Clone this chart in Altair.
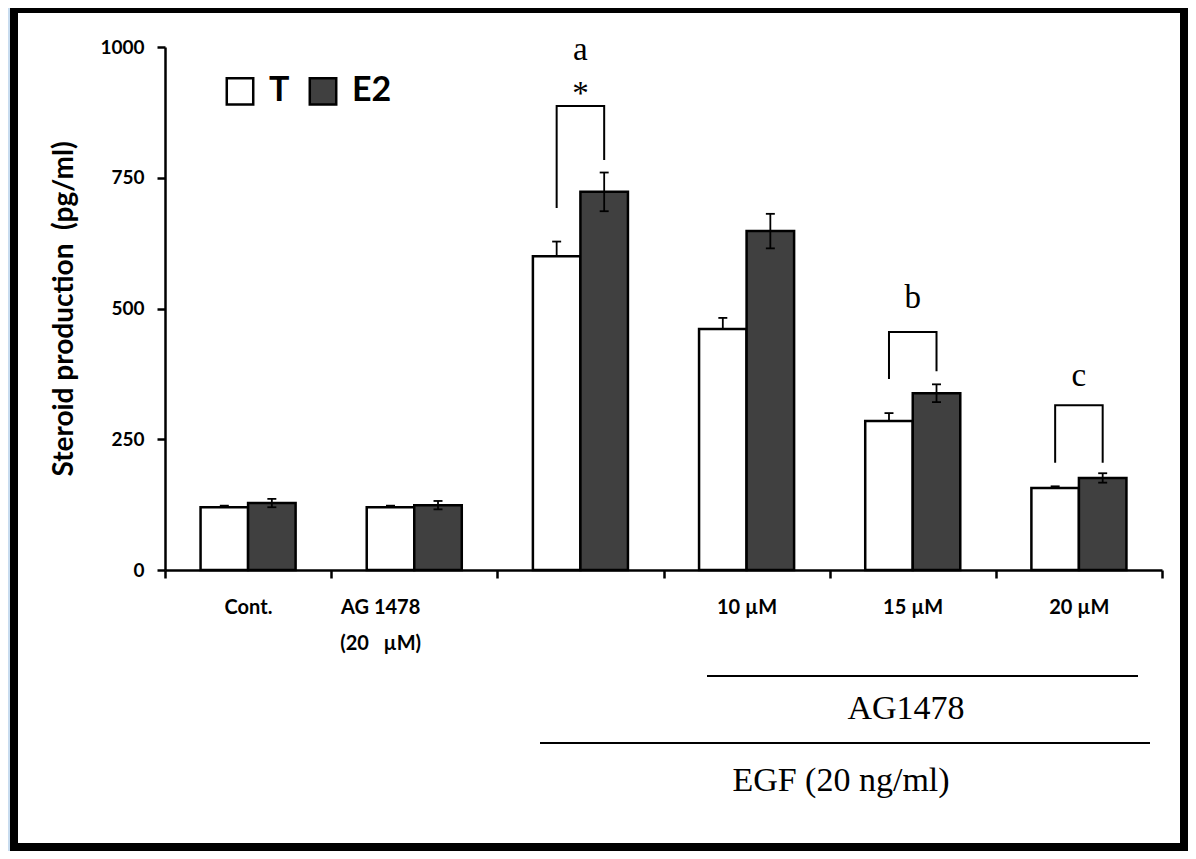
import json
import altair as alt
import pandas as pd

# ---------------- data ----------------
cats = ["Cont.", "AG 1478|(20\u00a0\u00a0\u00a0\u00b5M)", "", "10 \u00b5M", "15 \u00b5M", "20 \u00b5M"]
groups = ["T", "E2"]
t_vals = [120, 120, 600, 461, 285, 157]
t_err = [3, 3, 28, 21, 15, 3]
e2_vals = [128, 124, 723, 648, 338, 176]
e2_err = [8, 8, 37, 33, 17, 9]

bracket_cat_idx = [2, 4, 5]
bracket_left = [692, 365, 205]
bracket_top = [887, 455, 315]
bracket_right = [784, 380, 205]

sig_cat_idx = [2, 2, 4, 5]
sig_text = ["a", "*", "b", "c"]
sig_y = [975, 891, 501, 352]

y_ticks = [0, 250, 500, 750, 1000]

# ---------------- tables ----------------
rows = []
for i, (tv, te, ev, ee) in enumerate(zip(t_vals, t_err, e2_vals, e2_err)):
    rows.append({"i": i, "grp": "T", "value": tv, "lo": tv, "hi": tv + te, "capl": 0})
    rows.append({"i": i, "grp": "E2", "value": ev, "lo": ev - ee, "hi": ev + ee, "capl": 1})
bars_df = pd.DataFrame(rows)

br_rows = []
for b, (i, l, t, r) in enumerate(zip(bracket_cat_idx, bracket_left, bracket_top, bracket_right)):
    br_rows += [
        {"b": b, "i": i, "grp": "T", "y": l, "ord": 0},
        {"b": b, "i": i, "grp": "T", "y": t, "ord": 1},
        {"b": b, "i": i, "grp": "E2", "y": t, "ord": 2},
        {"b": b, "i": i, "grp": "E2", "y": r, "ord": 3},
    ]
br_df = pd.DataFrame(br_rows)
sig_df = pd.DataFrame({"i": sig_cat_idx, "txt": sig_text, "y": sig_y})
one = pd.DataFrame({"k": [0]})

W, H = 997, 523
BAR = 0.286          # bar width as fraction of a category slot
CAP = 0.027          # half cap width as fraction of a category slot

pos_calc = {
    "x0": f"datum.i + (datum.grp == 'T' ? {0.5 - BAR} : 0.5)",
}
xscale = alt.Scale(domain=[0, len(cats)], nice=False, zero=False)
yscale = alt.Scale(domain=[0, 1000], nice=False, zero=True)

label_arr = json.dumps(cats, ensure_ascii=False)
xaxis = alt.Axis(
    values=list(range(len(cats) + 1)), tickSize=8, tickWidth=2.5, tickColor="black",
    domainColor="black", domainWidth=2.5, labelAngle=0, labelFont="Lato",
    labelFontSize=20, labelFontWeight="bold", labelColor="black",
    labelPadding=19, labelBaseline="top", labelLineHeight=36, labelAlign="center",
    labelFlush=False, labelOverlap=False, labelBound=False,
    labelExpr=f"datum.value < {len(cats)} ? split({label_arr}[datum.value], '|') : ''",
    labelOffset={"condition": {"test": "datum.value == 1", "value": 49}, "value": 83},
    grid=False, title=None, zindex=2,
)
yaxis = alt.Axis(
    values=y_ticks, format="d", tickSize=8, tickWidth=2.5, tickColor="black",
    domainColor="black", domainWidth=2.5, labelFont="Lato", labelFontSize=19,
    labelFontWeight="bold", labelColor="black", labelPadding=13, grid=False,
    titleFont="Lato", titleFontSize=28, titleFontWeight="bold", titleColor="black",
    titlePadding=21, zindex=2,
)

frame = alt.Chart(one).mark_rect(fill="white", stroke="black", strokeWidth=8).encode(
    x=alt.value(-151), x2=alt.value(1019), y=alt.value(-38), y2=alt.value(800)
)

base = alt.Chart(bars_df).transform_calculate(**pos_calc).transform_calculate(
    x1=f"datum.x0 + {BAR}", xc=f"datum.x0 + {BAR / 2}"
)

bars = base.mark_bar(stroke="black", strokeWidth=2.5, opacity=1).encode(
    x=alt.X("x0:Q", scale=xscale, axis=xaxis),
    x2="x1:Q",
    y=alt.Y("value:Q", scale=yscale, title="Steroid production\u00a0\u00a0(pg/ml)", axis=yaxis),
    y2=alt.datum(0),
    color=alt.Color(
        "grp:N", sort=groups,
        scale=alt.Scale(domain=groups, range=["white", "#404040"]),
        legend=alt.Legend(
            orient="none", legendX=58, legendY=27, direction="horizontal", title=None,
            symbolType="square", symbolSize=700, symbolStrokeColor="black",
            symbolStrokeWidth=2.5, symbolOpacity=1, labelFont="Lato", labelFontSize=34,
            labelFontWeight="bold", labelColor="black", labelOffset=12,
            columnPadding=14, padding=0, labelLimit=200,
        ),
    ),
)

err = base.mark_rule(color="black", strokeWidth=1.8).encode(
    x=alt.X("xc:Q", scale=xscale),
    y=alt.Y("lo:Q", scale=yscale), y2="hi:Q",
)
cap_hi = base.transform_calculate(
    ca=f"datum.xc - {CAP}", cb=f"datum.xc + {CAP}"
).mark_rule(color="black", strokeWidth=1.8).encode(
    x=alt.X("ca:Q", scale=xscale), x2="cb:Q", y=alt.Y("hi:Q", scale=yscale),
)
cap_lo = base.transform_filter("datum.capl == 1").transform_calculate(
    ca=f"datum.xc - {CAP}", cb=f"datum.xc + {CAP}"
).mark_rule(color="black", strokeWidth=1.8).encode(
    x=alt.X("ca:Q", scale=xscale), x2="cb:Q", y=alt.Y("lo:Q", scale=yscale),
)

brackets = alt.Chart(br_df).transform_calculate(**pos_calc).transform_calculate(
    xc=f"datum.x0 + {BAR / 2}"
).mark_line(color="black", strokeWidth=2).encode(
    x=alt.X("xc:Q", scale=xscale),
    y=alt.Y("y:Q", scale=yscale), detail="b:N", order="ord:Q",
)

sig = alt.Chart(sig_df).transform_calculate(xm="datum.i + 0.5").mark_text(
    font="Liberation Serif", fontSize=33, color="black", baseline="alphabetic", align="center"
).encode(
    x=alt.X("xm:Q", scale=xscale), y=alt.Y("y:Q", scale=yscale), text="txt:N",
)

ag_line = alt.Chart(one).mark_rule(color="black", strokeWidth=2).encode(
    x=alt.value(542), x2=alt.value(973), y=alt.value(629)
)
egf_line = alt.Chart(one).mark_rule(color="black", strokeWidth=2).encode(
    x=alt.value(375), x2=alt.value(985), y=alt.value(696)
)
ag_text = alt.Chart(one).mark_text(
    text="AG1478", font="Liberation Serif", fontSize=34, color="black",
    baseline="alphabetic", align="center",
).encode(x=alt.value(741), y=alt.value(672))
egf_text = alt.Chart(one).mark_text(
    text="EGF (20 ng/ml)", font="Liberation Serif", fontSize=34, color="black",
    baseline="alphabetic", align="center",
).encode(x=alt.value(676), y=alt.value(744))

chart = alt.layer(
    frame, bars, err, cap_hi, cap_lo, brackets, sig, ag_line, egf_line, ag_text, egf_text
).properties(
    width=W, height=H,
    autosize=alt.AutoSizeParams(type="none"),
    padding={"left": 157, "top": 39, "right": 26, "bottom": 281},
    background="#c8dcef",
).configure_view(stroke=None)

chart.save("out.html", embed_options={"renderer": "svg", "actions": False})
